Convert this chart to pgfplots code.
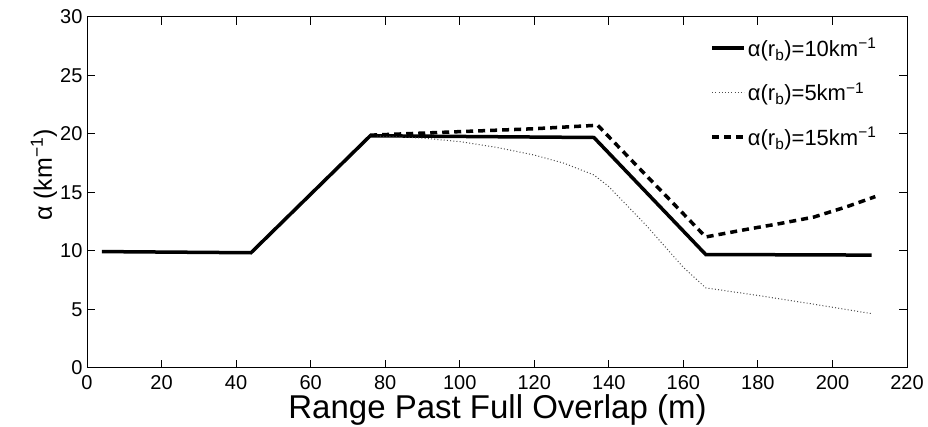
\documentclass[border=0pt]{standalone}
\usepackage{fontspec}
\setmainfont{Liberation Sans}
\usepackage{pgfplots}
\pgfplotsset{compat=1.18}
\begin{document}
\begin{tikzpicture}
\path[use as bounding box] (-87pt,-59pt) rectangle (841pt,368pt);
\begin{axis}[
  at={(0pt,0pt)}, anchor=south west,
  scale only axis, width=820pt, height=351pt,
  xmin=0, xmax=220, ymin=0, ymax=30,
  xtick={0,20,...,220}, ytick={0,5,...,30},
  tick align=inside, major tick length=8pt,
  xtick pos=both, ytick pos=both,
  axis line style={line width=1pt}, every tick/.style={line width=1pt, black},
  /pgf/number format/assume math mode=true,
  tick label style={font=\fontsize{20}{22}\selectfont},
  xticklabel style={yshift=-4pt},
  yticklabel style={xshift=-1pt},
  xlabel={Range Past Full Overlap (m)},
  ylabel={α (km\textsuperscript{−1})},
  xlabel style={font=\fontsize{33}{35}\selectfont, at={(axis description cs:0.5006,0)}, anchor=base, yshift=-51pt},
  ylabel style={font=\fontsize{25}{27}\selectfont, at={(axis description cs:-0.0427,0.55)}, anchor=base},
  legend style={draw=none, fill=none, at={(rel axis cs:0.76,0.946)}, anchor=north west,
    font=\fontsize{22}{24}\selectfont, row sep=21pt, inner sep=0pt,
    legend cell align=left},
  legend image code/.code={\draw[#1] (0pt,0pt) -- (32pt,0pt);},
]
\addplot[black, line width=3.5pt, line join=miter] coordinates {
(4,9.95) (44,9.85) (76,19.85) (136,19.7) (166,9.7) (210.5,9.65)};
\addlegendentry{α(r\textsubscript{b})=10km\textsuperscript{−1}}
\addplot[black!70, line width=1pt, dash pattern=on 1pt off 2.2pt] coordinates {
(76,19.85) (90,19.65) (100,19.35) (110,18.85) (120,18.2) (128,17.5) (136,16.5)
(140,15.5) (150,12.2) (160,8.6) (166,6.85) (180,6.2) (195,5.45) (210.5,4.65)};
\addlegendentry{α(r\textsubscript{b})=5km\textsuperscript{−1}}
\addplot[black, line width=3.5pt, dash pattern=on 7pt off 5pt] coordinates {
(76,19.9) (100,20.2) (120,20.45) (137,20.75) (166,11.2) (177,11.85) (186,12.35)
(195,12.9) (204,13.8) (211.5,14.65)};
\addlegendentry{α(r\textsubscript{b})=15km\textsuperscript{−1}}
\end{axis}
\end{tikzpicture}
\end{document}
